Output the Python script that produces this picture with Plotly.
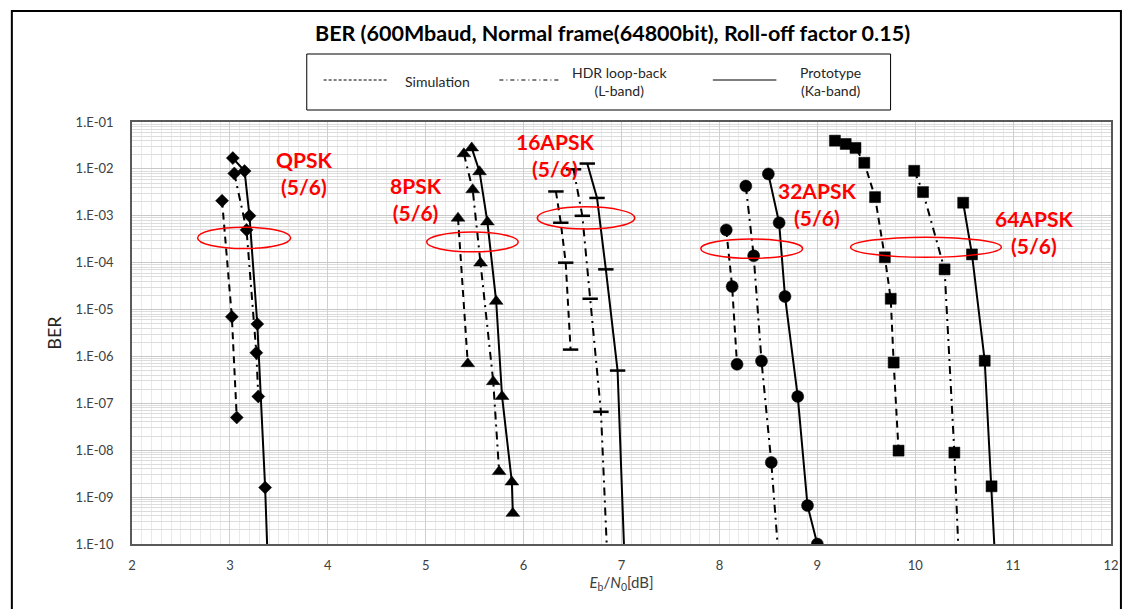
import numpy as np
import plotly.graph_objects as go

# ---- Measured BER curves, Eb/N0 in dB ----
# QPSK 5/6 (diamonds)
qpsk_sim_x = [2.92, 3.02, 3.07]
qpsk_sim_y = [2.1e-3, 7e-6, 5e-8]
qpsk_hdr_x = [3.045, 3.17, 3.27, 3.29]
qpsk_hdr_y = [8e-3, 5e-4, 1.2e-6, 1.4e-7]
qpsk_pro_x = [3.03, 3.15, 3.20, 3.28, 3.36]
qpsk_pro_y = [1.7e-2, 9e-3, 1e-3, 4.9e-6, 1.6e-9]
qpsk_pro_tail = (3.385, 5e-11)

# 8PSK 5/6 (triangles)
psk8_sim_x = [5.33, 5.43]
psk8_sim_y = [8.9e-4, 7e-7]
psk8_hdr_x = [5.39, 5.48, 5.56, 5.69, 5.75]
psk8_hdr_y = [2.1e-2, 3.6e-3, 9.8e-5, 2.9e-7, 3.5e-9]
psk8_pro_x = [5.47, 5.55, 5.63, 5.72, 5.78, 5.88, 5.89]
psk8_pro_y = [2.8e-2, 8.7e-3, 7.4e-4, 1.5e-5, 1.4e-7, 2.1e-9, 4.5e-10]

# 16APSK 5/6 (dash markers)
apsk16_sim_x = [6.33, 6.38, 6.43, 6.48]
apsk16_sim_y = [3.3e-3, 7.1e-4, 1e-4, 1.4e-6]
apsk16_hdr_x = [6.51, 6.60, 6.68, 6.79]
apsk16_hdr_y = [9.8e-3, 1e-3, 1.7e-5, 6.6e-8]
apsk16_hdr_tail = (6.855, 5e-11)
apsk16_pro_x = [6.65, 6.75, 6.84, 6.96]
apsk16_pro_y = [1.3e-2, 2.4e-3, 7.2e-5, 5e-7]
apsk16_pro_tail = (7.03, 5e-11)

# 32APSK 5/6 (circles)
apsk32_sim_x = [8.07, 8.13, 8.18]
apsk32_sim_y = [5e-4, 3.1e-5, 6.8e-7]
apsk32_hdr_x = [8.27, 8.35, 8.43, 8.53]
apsk32_hdr_y = [4.3e-3, 1.4e-4, 8e-7, 5.5e-9]
apsk32_hdr_tail = (8.605, 5e-11)
apsk32_pro_x = [8.50, 8.61, 8.67, 8.80, 8.90, 9.00]
apsk32_pro_y = [7.8e-3, 7.1e-4, 1.9e-5, 1.4e-7, 6.6e-10, 1e-10]

# 64APSK 5/6 (squares)
apsk64_sim_x = [9.18, 9.29, 9.39, 9.48, 9.59, 9.69, 9.75, 9.78, 9.83]
apsk64_sim_y = [4e-2, 3.4e-2, 2.8e-2, 1.35e-2, 2.5e-3, 1.3e-4, 1.7e-5, 7.4e-7, 9.8e-9]
apsk64_hdr_x = [9.99, 10.08, 10.30, 10.40]
apsk64_hdr_y = [9.1e-3, 3.2e-3, 7.2e-5, 8.9e-9]
apsk64_hdr_tail = (10.445, 5e-11)
apsk64_pro_x = [10.49, 10.58, 10.71, 10.78]
apsk64_pro_y = [1.9e-3, 1.5e-4, 8.1e-7, 1.7e-9]
apsk64_pro_tail = (10.815, 5e-11)

# Axis ticks
x_ticks = [2, 3, 4, 5, 6, 7, 8, 9, 10, 11, 12]
y_tick_vals = [1e-1, 1e-2, 1e-3, 1e-4, 1e-5, 1e-6, 1e-7, 1e-8, 1e-9, 1e-10]
y_tick_text = ["1.E-01", "1.E-02", "1.E-03", "1.E-04", "1.E-05",
               "1.E-06", "1.E-07", "1.E-08", "1.E-09", "1.E-10"]

title_text = "BER (600Mbaud, Normal frame(64800bit), Roll-off factor 0.15)"
mod_labels = ["QPSK<br>(5/6)", "8PSK<br>(5/6)", "16APSK<br>(5/6)",
              "32APSK<br>(5/6)", "64APSK<br>(5/6)"]

# ---- Styling ----
FONT = "Lato"
DASH_SIM = "7px,5px"
DASH_HDR = "8px,5px,2px,5px"

W, H = 1131, 609
L, R, T, B = 132, 1118, 122, 544  # plot area in pixels


def px(x):
    return (x - L) / (R - L)


def py(y):
    return (B - y) / (B - T)


fig = go.Figure()


def add_curve(x, y, dash, symbol, size, tail=None, mline=0.5):
    xs, ys = list(x), list(y)
    sizes = [size] * len(xs)
    if tail is not None:
        xs.append(tail[0])
        ys.append(tail[1])
        sizes.append(0)
    fig.add_trace(go.Scatter(
        x=xs, y=ys, mode="lines+markers",
        line=dict(color="#000000", width=2, dash=dash),
        marker=dict(symbol=symbol, size=sizes, color="#000000", opacity=1,
                    line=dict(color="#000000", width=mline)),
        opacity=1, showlegend=False, hoverinfo="x+y",
    ))


# QPSK
add_curve(qpsk_sim_x, qpsk_sim_y, DASH_SIM, "diamond", 10)
add_curve(qpsk_hdr_x, qpsk_hdr_y, DASH_HDR, "diamond", 10)
add_curve(qpsk_pro_x, qpsk_pro_y, "solid", "diamond", 10, tail=qpsk_pro_tail)
# 8PSK
add_curve(psk8_sim_x, psk8_sim_y, DASH_SIM, "triangle-up", 12)
add_curve(psk8_hdr_x, psk8_hdr_y, DASH_HDR, "triangle-up", 12)
add_curve(psk8_pro_x, psk8_pro_y, "solid", "triangle-up", 12)
# 16APSK
add_curve(apsk16_sim_x, apsk16_sim_y, DASH_SIM, "line-ew", 11, mline=2.5)
add_curve(apsk16_hdr_x, apsk16_hdr_y, DASH_HDR, "line-ew", 11,
          tail=apsk16_hdr_tail, mline=2.5)
add_curve(apsk16_pro_x, apsk16_pro_y, "solid", "line-ew", 11,
          tail=apsk16_pro_tail, mline=2.5)
# 32APSK
add_curve(apsk32_sim_x, apsk32_sim_y, DASH_SIM, "circle", 12)
add_curve(apsk32_hdr_x, apsk32_hdr_y, DASH_HDR, "circle", 12, tail=apsk32_hdr_tail)
add_curve(apsk32_pro_x, apsk32_pro_y, "solid", "circle", 12)
# 64APSK
add_curve(apsk64_sim_x, apsk64_sim_y, DASH_SIM, "square", 11)
add_curve(apsk64_hdr_x, apsk64_hdr_y, DASH_HDR, "square", 11, tail=apsk64_hdr_tail)
add_curve(apsk64_pro_x, apsk64_pro_y, "solid", "square", 11, tail=apsk64_pro_tail)

shapes = []
annotations = []

# Red ellipses around the BER = 1e-4 .. 1e-3 region of each modulation
ellipses = [
    (2.67, 3.62, 2.0e-4, 5.7e-4),
    (5.01, 5.945, 1.7e-4, 4.5e-4),
    (6.14, 7.135, 5.2e-4, 1.55e-3),
    (7.81, 8.85, 1.24e-4, 3.2e-4),
    (9.34, 10.88, 1.3e-4, 3.5e-4),
]
for x0, x1, y0, y1 in ellipses:
    shapes.append(dict(type="circle", xref="x", yref="y", x0=x0, x1=x1,
                       y0=y0, y1=y1, line=dict(color="#ff0000", width=1.5)))

# Modulation labels (x in dB, y in log10 BER)
label_pos = [(3.755, -2.09), (4.90, -2.64), (6.32, -1.71), (9.0, -2.75), (11.21, -3.35)]
for text, (lx, ly) in zip(mod_labels, label_pos):
    annotations.append(dict(x=lx, y=ly, xref="x", yref="y", text=text,
                            showarrow=False, xanchor="center", yanchor="middle",
                            font=dict(family=FONT, size=21, color="#ff0000",
                                      weight="bold"),
                            align="center"))

# Title
annotations.append(dict(x=px(616), y=py(33), xref="paper", yref="paper",
                        text=title_text, showarrow=False,
                        xanchor="center", yanchor="middle",
                        font=dict(family=FONT, size=21.5, color="black", weight="bold")))

# Custom legend box
shapes.append(dict(type="rect", xref="paper", yref="paper",
                   x0=px(308), x1=px(896), y0=py(110), y1=py(54),
                   line=dict(color="black", width=1), fillcolor="white"))
legend_items = [
    (325, 390, "3px,2px", 440, "Simulation"),
    (502, 563, "4px,3px,1px,3px", 623, "HDR loop-back<br>(L-band)"),
    (717, 781, "solid", 835, "Prototype<br>(Ka-band)"),
]
for lx0, lx1, dash, tx, label in legend_items:
    shapes.append(dict(type="line", xref="paper", yref="paper",
                       x0=px(lx0), x1=px(lx1), y0=py(80), y1=py(80),
                       line=dict(color="black", width=1.2, dash=dash)))
    annotations.append(dict(x=px(tx), y=py(81), xref="paper", yref="paper",
                            text=label, showarrow=False, align="center",
                            xanchor="center", yanchor="middle",
                            font=dict(family=FONT, size=14, color="#262626")))

# Outer chart border
shapes.append(dict(type="rect", xref="paper", yref="paper",
                   x0=px(11), x1=px(1128), y0=py(640), y1=py(11),
                   line=dict(color="black", width=2), layer="below"))

fig.update_layout(
    width=W, height=H,
    margin=dict(l=L, r=W - R, t=T, b=H - B, pad=0),
    paper_bgcolor="white", plot_bgcolor="white",
    font=dict(family=FONT, size=13, color="#404040"),
    shapes=shapes, annotations=annotations,
    showlegend=False,
)

fig.update_xaxes(
    range=[2, 12], tickvals=x_ticks, ticks="", ticklabelstandoff=9,
    tickfont=dict(size=13, color="#404040"),
    showgrid=True, gridcolor="#cfcfcf", gridwidth=1,
    minor=dict(dtick=0.1, showgrid=True, gridcolor="#e9e9e9", gridwidth=1),
    showline=True, linecolor="#595959", linewidth=1.5, mirror=True,
    zeroline=False,
    title=dict(text="<i>E</i><sub>b</sub>/<i>N</i><sub>0</sub>[dB]",
               font=dict(size=15, color="#404040"), standoff=5),
)
fig.update_yaxes(
    type="log", range=[-10, -1], tickvals=y_tick_vals, ticktext=y_tick_text,
    ticks="", ticklabelstandoff=14, tickfont=dict(size=13, color="#404040"),
    showgrid=True, gridcolor="#c8c8c8", gridwidth=1,
    minor=dict(dtick="D1", showgrid=True, gridcolor="#dcdcdc", gridwidth=1),
    showline=True, linecolor="#595959", linewidth=1.5, mirror=True,
    zeroline=False,
    title=dict(text="BER", font=dict(size=18, color="#262626"), standoff=9),
)

fig.write_html("out.html")
